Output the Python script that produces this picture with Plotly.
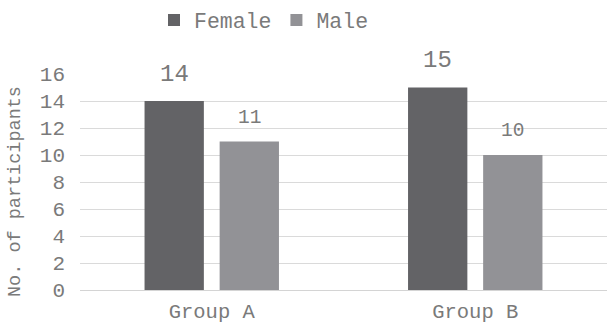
import plotly.graph_objects as go

groups = ["Group A", "Group B"]
female = [14, 15]
male = [11, 10]
series_names = ["Female", "Male"]
y_ticks = [0, 2, 4, 6, 8, 10, 12, 14, 16]

FONT = "Liberation Mono, Courier New, monospace"
C_F = "#636366"
C_M = "#929296"
TXT = "#7a7a7a"

fig = go.Figure()
fig.add_trace(go.Bar(x=groups, y=female, name=series_names[0], marker=dict(color=C_F, line=dict(width=0))))
fig.add_trace(go.Bar(x=groups, y=male, name=series_names[1], marker=dict(color=C_M, line=dict(width=0))))

# data labels
for i, g in enumerate(groups):
    fig.add_annotation(x=g, y=female[i], text=str(female[i]), showarrow=False,
                       xshift=-37.5, yshift=27, font=dict(family=FONT, size=24, color=TXT))
    fig.add_annotation(x=g, y=male[i], text=str(male[i]), showarrow=False,
                       xshift=37.5, yshift=24, font=dict(family=FONT, size=19.5, color=TXT))

fig.add_annotation(text="No. of participants", xref="paper", yref="paper",
                   x=(15 - 80) / 527, y=(290 - 192) / 216, textangle=-90,
                   showarrow=False, xanchor="center", yanchor="middle",
                   font=dict(family=FONT, size=18.5, color=TXT))

fig.update_layout(
    width=607, height=326,
    margin=dict(l=80, r=0, t=74, b=36, autoexpand=False),
    paper_bgcolor="white", plot_bgcolor="white",
    barmode="group", bargap=0.43, bargroupgap=0.21,
    font=dict(family=FONT, color=TXT),
    legend=dict(orientation="h", x=(154 - 80) / 527, xanchor="left", y=1.0 + (74 - 20) / 216,
                yanchor="middle", font=dict(family=FONT, size=21.5, color=TXT),
                itemwidth=30, tracegroupgap=0),
    xaxis=dict(showgrid=False, showline=True, linecolor="#d4d4d4", linewidth=1, automargin=False,
               tickfont=dict(family=FONT, size=20.5, color=TXT), ticks="", ticklabelstandoff=2),
    yaxis=dict(range=[0, 16], tickvals=y_ticks, showgrid=True, gridcolor="#dadada", gridwidth=1,
               zeroline=False, showline=False, ticks="", automargin=False,
               tickfont=dict(family=FONT, size=21, color=TXT), ticklabelstandoff=14),
)

fig.write_html("out.html")
